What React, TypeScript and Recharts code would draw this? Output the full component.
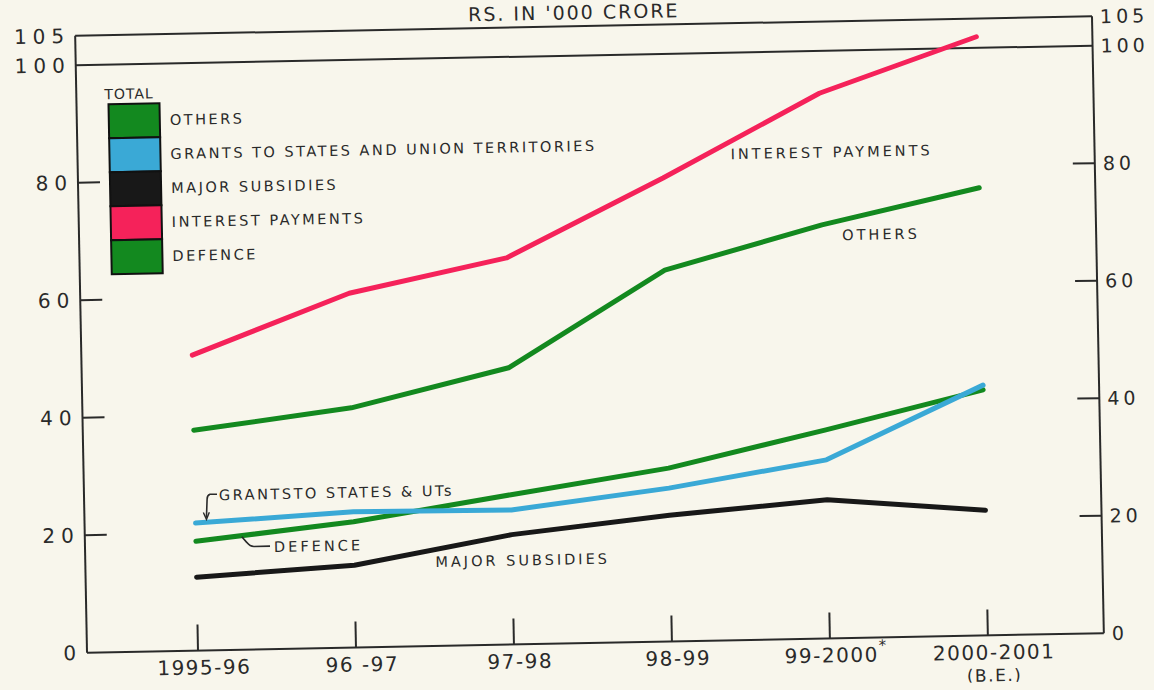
import { LineChart, Line, XAxis, YAxis, ReferenceLine } from "recharts"

const categories = ["1995-96", "96 -97", "97-98", "98-99", "99-2000", "2000-2001"]
const categoryMarks = ["", "", "", "", "*", ""]
const categorySubLines = ["", "", "", "", "", "(B.E.)"]

const interestPayments = [50.3, 60.3, 65.8, 78.9, 92.8, 101.9]
const others = [37.5, 40.8, 47.1, 63.2, 70.4, 76.2]
const grants = [21.7, 23.1, 22.9, 26.1, 30.4, 42.6]
const defence = [18.6, 21.4, 25.5, 29.5, 35.5, 41.8]
const subsidies = [12.5, 14.0, 18.7, 21.5, 23.6, 21.3]

const yTicks = [0, 20, 40, 60, 80, 100, 105]

const legendNames = ["OTHERS", "GRANTS TO STATES AND UNION TERRITORIES", "MAJOR SUBSIDIES", "INTEREST PAYMENTS", "DEFENCE"]

const GREEN = "#13891f"
const BLUE = "#3aa9d6"
const BLACK = "#181818"
const PINK = "#f5225a"
const INK = "#2a2a2a"
const PAPER = "#f8f6ec"
const legendColors = [GREEN, BLUE, BLACK, PINK, GREEN]

const FONT = "'DejaVu Sans', sans-serif"

const data = categories.map((c, i) => ({
  period: c,
  interest: interestPayments[i],
  others: others[i],
  grants: grants[i],
  defence: defence[i],
  subsidies: subsidies[i],
}))

function LeftTick({ x, y, payload }: any) {
  const v = payload.value
  const axisX = x + 10
  return (
    <g>
      {v > 0 && v < 100 && <line x1={axisX} x2={axisX + 22} y1={y} y2={y} stroke={INK} strokeWidth={2} />}
      <text x={x + 5} y={y} dy={7} textAnchor="end" fill={INK} fontSize={20} fontFamily={FONT} style={{ letterSpacing: 6 }}>
        {v}
      </text>
    </g>
  )
}

function RightTick({ x, y, payload }: any) {
  const v = payload.value
  const axisX = x - 8
  return (
    <g>
      {v > 0 && v < 100 && <line x1={axisX} x2={axisX - 22} y1={y} y2={y} stroke={INK} strokeWidth={2} />}
      <text x={x} y={y} dy={7} textAnchor="start" fill={INK} fontSize={19} fontFamily={FONT} style={{ letterSpacing: 4 }}>
        {v}
      </text>
    </g>
  )
}

function BottomTick({ x, y, payload, index }: any) {
  const axisY = y - 6
  const i = typeof index === "number" ? index : categories.indexOf(payload.value)
  return (
    <g>
      <line x1={x} x2={x} y1={axisY} y2={axisY - 26} stroke={INK} strokeWidth={2} />
      <text x={x + 6} y={axisY + 24} textAnchor="middle" fill={INK} fontSize={20} fontFamily={FONT} style={{ letterSpacing: 1.5 }}>
        {payload.value}
        {categoryMarks[i] ? <tspan dy={-11} fontSize={15}>{categoryMarks[i]}</tspan> : null}
      </text>
      {categorySubLines[i] ? (
        <text x={x + 6} y={axisY + 46} textAnchor="middle" fill={INK} fontSize={17} fontFamily={FONT} style={{ letterSpacing: 1.5 }}>
          {categorySubLines[i]}
        </text>
      ) : null}
    </g>
  )
}

export default function App() {
  const lineProps = { type: "linear" as const, strokeWidth: 5, dot: false, isAnimationActive: false, strokeLinecap: "round" as const, strokeLinejoin: "round" as const }
  return (
    <div style={{ position: "fixed", left: 0, top: 0, width: 1154, height: 690, background: PAPER, overflow: "hidden" }}>
      <div
        style={{
          position: "absolute",
          left: 0,
          top: 0,
          width: 1154,
          height: 690,
          transform: "rotate(-1.1deg)",
          transformOrigin: "589.5px 334.5px",
        }}
      >
        <LineChart width={1154} height={690} data={data} margin={{ top: 26, right: 6, left: 21, bottom: 7 }}>
          <XAxis
            dataKey="period"
            padding={{ left: 111, right: 116 }}
            height={40}
            tickSize={0}
            tickMargin={6}
            tick={<BottomTick />}
            axisLine={{ stroke: INK, strokeWidth: 2 }}
            tickLine={false}
            interval={0}
          />
          <YAxis
            yAxisId="left"
            domain={[0, 105]}
            allowDataOverflow
            ticks={yTicks}
            width={60}
            tickSize={0}
            tickMargin={10}
            tick={<LeftTick />}
            axisLine={{ stroke: INK, strokeWidth: 2 }}
            tickLine={false}
            interval={0}
          />
          <YAxis
            yAxisId="right"
            orientation="right"
            domain={[0, 105]}
            allowDataOverflow
            ticks={yTicks}
            width={50}
            tickSize={0}
            tickMargin={8}
            tick={<RightTick />}
            axisLine={{ stroke: INK, strokeWidth: 2 }}
            tickLine={false}
            interval={0}
          />
          <ReferenceLine yAxisId="left" y={105} stroke={INK} strokeWidth={2} />
          <ReferenceLine yAxisId="left" y={100} stroke={INK} strokeWidth={2} />
          <Line yAxisId="left" dataKey="interest" name="Interest Payments" stroke={PINK} {...lineProps} />
          <Line yAxisId="left" dataKey="others" name="Others" stroke={GREEN} {...lineProps} />
          <Line yAxisId="left" dataKey="defence" name="Defence" stroke={GREEN} {...lineProps} />
          <Line yAxisId="left" dataKey="grants" name="Grants to States and UTs" stroke={BLUE} {...lineProps} />
          <Line yAxisId="right" dataKey="subsidies" name="Major Subsidies" stroke={BLACK} {...lineProps} />
        </LineChart>

        <svg width={1154} height={690} style={{ position: "absolute", left: 0, top: 0, pointerEvents: "none" }} fontFamily={FONT}>
          <text x={580} y={19} textAnchor="middle" fill={INK} fontSize={19} style={{ letterSpacing: 2 }}>
            RS. IN '000 CRORE
          </text>

          <text x={109} y={90} fill={INK} fontSize={14} style={{ letterSpacing: 1 }}>TOTAL</text>
          {legendNames.map((name, i) => (
            <g key={name}>
              <rect x={113} y={95 + i * 34} width={51} height={34} fill={legendColors[i]} stroke="#111" strokeWidth={2} />
              <text x={174} y={117 + i * 34} fill={INK} fontSize={14.5} style={{ letterSpacing: 2.5 }}>
                {name}
              </text>
            </g>
          ))}

          <text x={734} y={162} fill={INK} fontSize={14.5} style={{ letterSpacing: 3 }}>INTEREST PAYMENTS</text>
          <text x={844} y={245} fill={INK} fontSize={14.5} style={{ letterSpacing: 3 }}>OTHERS</text>
          <text x={431} y={564} fill={INK} fontSize={14.5} style={{ letterSpacing: 3 }}>MAJOR SUBSIDIES</text>

          <text x={216} y={493} fill={INK} fontSize={14.5} style={{ letterSpacing: 2.5 }}>GRANTSTO STATES &amp; UTs</text>
          <path d="M214 487 L207 487 Q204 488 204 492 L203 510" stroke={INK} strokeWidth={1.6} fill="none" />
          <path d="M200 505 L203 512 L206 505" stroke={INK} strokeWidth={1.4} fill="none" />

          <text x={270} y={546} fill={INK} fontSize={14.5} style={{ letterSpacing: 3 }}>DEFENCE</text>
          <path d="M266 540 L250 540 Q246 540 243 536 L238 530" stroke={INK} strokeWidth={1.6} fill="none" />
        </svg>
      </div>
    </div>
  )
}
